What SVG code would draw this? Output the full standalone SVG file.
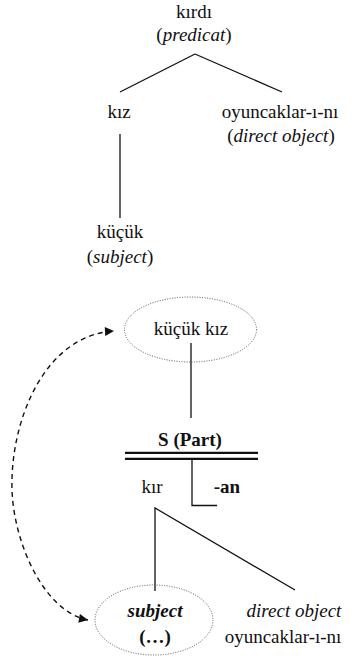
<svg xmlns="http://www.w3.org/2000/svg" width="359" height="661" viewBox="0 0 359 661">
<style>
text{font-family:'Liberation Serif','Times New Roman','DejaVu Serif',serif;font-size:19px;fill:#111;text-anchor:middle}
.b{font-weight:bold}
.i{font-style:italic}
.ln{stroke:#111;stroke-width:1.3;fill:none}
.dot{stroke:#555;stroke-width:1;stroke-dasharray:1 1.5;fill:none}
.dash{stroke:#111;stroke-width:1.4;stroke-dasharray:5 4;fill:none}
</style>
<defs>
<marker id="ah" viewBox="0 0 10 10" refX="10" refY="5" markerWidth="10" markerHeight="9" markerUnits="userSpaceOnUse" orient="auto-start-reverse">
<path d="M0,0 L10,5 L0,10 z" fill="#111"/>
</marker>
</defs>
<g id="connectors">
<line class="ln" x1="195" y1="54" x2="120" y2="92"/>
<line class="ln" x1="195" y1="54" x2="282" y2="92"/>
<line class="ln" x1="120" y1="134" x2="120" y2="218"/>
<line class="ln" x1="191" y1="343" x2="191" y2="418"/>
<line x1="125" y1="452.8" x2="258" y2="452.8" stroke="#111" stroke-width="2.2"/>
<line x1="125" y1="458.8" x2="258" y2="458.8" stroke="#111" stroke-width="2.2"/>
<polyline class="ln" points="192,459 192,505.5 217,505.5"/>
<polyline class="ln" points="155,591 155,508 295,590"/>
<path class="dash" d="M88,620 C45,612 14,545 12,490 C10,420 45,335 114,331" marker-start="url(#ah)" marker-end="url(#ah)"/>
</g>
<g id="n-kirdi">
<text x="194" y="17.5">kırdı</text>
<text x="194" y="41">(<tspan class="i">predicat</tspan>)</text>
</g>
<g id="n-kiz"><text x="119" y="118">kız</text></g>
<g id="n-oyuncaklar1">
<text x="280" y="118">oyuncaklar-ı-nı</text>
<text x="281" y="141.5">(<tspan class="i">direct object</tspan>)</text>
</g>
<g id="n-kucuk">
<text x="120" y="238">küçük</text>
<text x="120" y="262.5">(<tspan class="i">subject</tspan>)</text>
</g>
<g id="n-kucukkiz">
<ellipse class="dot" cx="190.5" cy="329.5" rx="66" ry="32.5"/>
<text x="191" y="335">küçük kız</text>
</g>
<g id="n-spart"><text class="b" x="190" y="446">S (Part)</text></g>
<g id="n-kir"><text x="152" y="493">kır</text></g>
<g id="n-an"><text class="b" x="227" y="493">-an</text></g>
<g id="n-subject">
<ellipse class="dot" cx="154" cy="620" rx="59" ry="35"/>
<text class="b i" x="155" y="617">subject</text>
<text class="b" x="155" y="643">(…)</text>
</g>
<g id="n-directobject">
<text class="i" x="294" y="617">direct object</text>
<text x="283" y="643">oyuncaklar-ı-nı</text>
</g>
</svg>
